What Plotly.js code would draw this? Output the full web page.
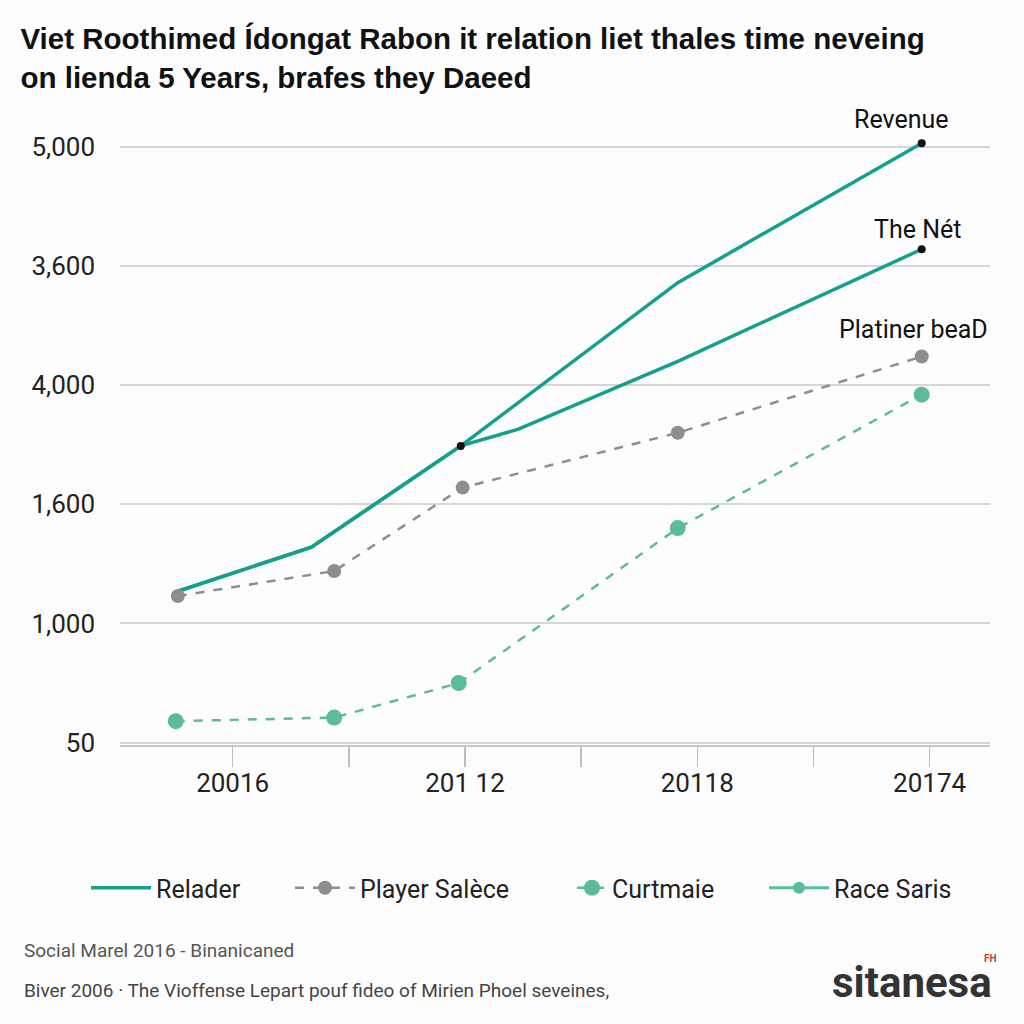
<!DOCTYPE html>
<html>
<head>
<meta charset="utf-8">
<script src="https://cdn.plot.ly/plotly-3.0.1.min.js"></script>
<style>html,body{margin:0;padding:0;background:#fdfdfd;}#chart{width:1024px;height:1024px;}</style>
</head>
<body>
<div id="chart"></div>
<script>
// X positions in tick units (0 = "20016", 1 = "201 12", 2 = "20118", 3 = "20174")
const xTickVals = [-0.5, 0, 0.5, 1, 1.5, 2, 2.5, 3];
const xTickText = ['', '20016', '', '201 12', '', '20118', '', '20174'];
// Y axis: labels in the order drawn bottom to top
const yTickVals = [0, 1, 2, 3, 4, 5];
const yTickText = ['50', '1,000', '1,600', '4,000', '3,600', '5,000'];

// Revenue (legend "Relader")
const revenueX = [-0.236, 0.339, 0.982, 1.916, 2.966];
const revenueY = [1.27, 1.64, 2.49, 3.86, 5.03];
// The Net
const netX = [-0.236, 0.339, 0.982, 1.23, 1.916, 2.966];
const netY = [1.27, 1.64, 2.49, 2.63, 3.20, 4.14];
// Player Salèce (Platiner beaD)
const playerX = [-0.236, 0.437, 0.99, 1.916, 2.966];
const playerY = [1.23, 1.44, 2.14, 2.60, 3.24];
// Curtmaie
const curtX = [-0.245, 0.437, 0.973, 1.916, 2.966];
const curtY = [0.18, 0.21, 0.50, 1.80, 2.92];

const teal = '#14a08d';
const gray = '#8e8e8e';
const green = '#5cbb9c';

const traces = [
  {x: revenueX, y: revenueY, type: 'scatter', mode: 'lines', name: 'Relader', legend: 'legend',
   line: {color: teal, width: 3.5}},
  {x: netX, y: netY, type: 'scatter', mode: 'lines', name: 'The Nét', showlegend: false,
   line: {color: teal, width: 3.5}},
  {x: playerX, y: playerY, type: 'scatter', mode: 'lines+markers', name: 'Player Salèce', legend: 'legend2',
   line: {color: gray, width: 2.5, dash: 'dash'}, marker: {color: gray, size: 14}},
  {x: curtX, y: curtY, type: 'scatter', mode: 'lines+markers', name: 'Curtmaie', legend: 'legend3',
   line: {color: green, width: 2.5, dash: 'dash'}, marker: {color: green, size: 16}},
  {x: [null], y: [null], type: 'scatter', mode: 'lines+markers', name: 'Race Saris', legend: 'legend4',
   line: {color: green, width: 3}, marker: {color: green, size: 12}},
  {x: [revenueX[2], revenueX[4], netX[5]], y: [revenueY[2], revenueY[4], netY[5]],
   type: 'scatter', mode: 'markers', showlegend: false, marker: {color: '#111', size: 8}}
];

function leg(px, iw) {
  return {
    orientation: 'h', xref: 'container', yref: 'container', x: px / 1024, y: 1 - 888 / 1024,
    xanchor: 'left', yanchor: 'middle', itemwidth: iw,
    font: {size: 25, color: '#222'}, bgcolor: 'rgba(0,0,0,0)'
  };
}

// plot area: x 120..990, y 117..745 (pixels)
function px2x(px) { return (px - 120) / 870; }
function py2y(py) { return (745 - py) / 628; }

const layout = {
  width: 1024, height: 1024,
  paper_bgcolor: '#fdfdfd', plot_bgcolor: '#fdfdfd',
  margin: {l: 120, r: 34, t: 117, b: 279},
  font: {family: 'Roboto, "Liberation Sans", Arial, sans-serif', color: '#222'},
  title: {
    text: '<b>Viet Roothimed Ídongat Rabon it relation liet thales time neveing<br>on lienda 5 Years, brafes they Daeed</b>',
    x: 0.02, xanchor: 'left', xref: 'container', y: 0.952, yanchor: 'top', yref: 'container',
    font: {size: 29.5, color: '#111', family: '"Liberation Sans", Arial, sans-serif'}
  },
  xaxis: {
    range: [-0.485, 3.26], tickmode: 'array', tickvals: xTickVals, ticktext: xTickText,
    ticks: 'outside', ticklen: 20, tickcolor: '#bdbdbd', tickwidth: 1.5, ticklabelstandoff: -6,
    showgrid: false, zeroline: false, showline: true, linecolor: '#c8c8c8', linewidth: 2,
    tickfont: {size: 26, color: '#222'}, fixedrange: true
  },
  yaxis: {
    range: [-0.02, 5.25], tickmode: 'array', tickvals: yTickVals, ticktext: yTickText,
    showgrid: true, gridcolor: '#d6d6d6', gridwidth: 2, zeroline: false, showline: false,
    ticks: '', ticklabelstandoff: 24, tickfont: {size: 26, color: '#222'}
  },
  showlegend: true,
  legend: leg(86, 60),
  legend2: leg(290, 60),
  legend3: leg(572, 30),
  legend4: leg(764, 60),
  annotations: [
    {x: revenueX[4], y: revenueY[4], text: 'Revenue', showarrow: false, yshift: 24, xshift: -20,
     font: {size: 25, color: '#111'}},
    {x: netX[5], y: netY[5], text: 'The Nét', showarrow: false, yshift: 20, xshift: -4,
     font: {size: 25, color: '#111'}},
    {x: playerX[4], y: playerY[4], text: 'Platiner beaD', showarrow: false, yshift: 27, xshift: -8,
     font: {size: 25, color: '#111'}},
    {xref: 'paper', yref: 'paper', x: px2x(22), y: py2y(950), xanchor: 'left', yanchor: 'middle',
     text: 'Social Marel 2016 - Binanicaned', showarrow: false, font: {size: 19, color: '#555'}},
    {xref: 'paper', yref: 'paper', x: px2x(22), y: py2y(990), xanchor: 'left', yanchor: 'middle',
     text: 'Biver 2006 · The Vioffense Lepart pouf fideo of Mirien Phoel seveines,', showarrow: false,
     font: {size: 19, color: '#444'}},
    {xref: 'paper', yref: 'paper', x: px2x(994), y: py2y(982), xanchor: 'right', yanchor: 'middle',
     text: '<b>sitanesa</b>', showarrow: false, font: {size: 42, color: '#333'}},
    {xref: 'paper', yref: 'paper', x: px2x(990), y: py2y(958), xanchor: 'center', yanchor: 'middle',
     text: '<b>FH</b>', showarrow: false, font: {size: 10, color: '#d0392b'}}
  ]
};

Plotly.newPlot('chart', traces, layout, {staticPlot: true, displayModeBar: false});
</script>
</body>
</html>
